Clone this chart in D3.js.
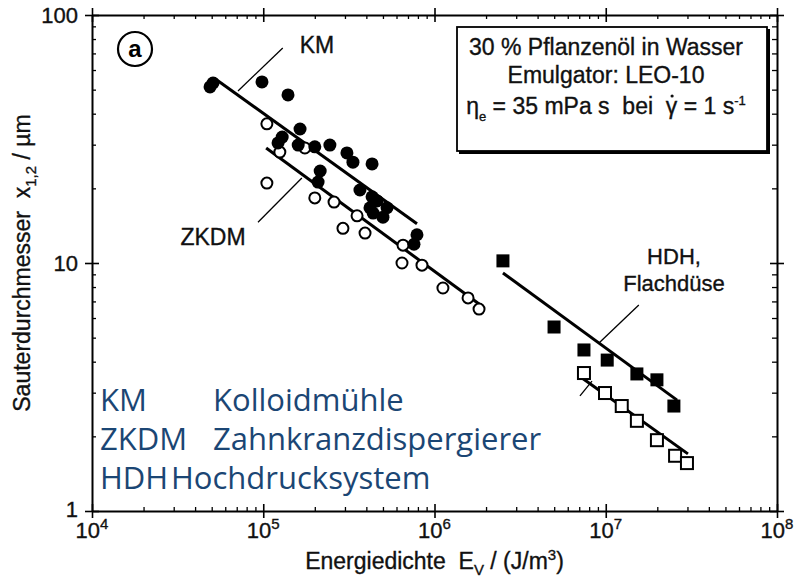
<!DOCTYPE html>
<html>
<head>
<meta charset="utf-8">
<script src="https://cdn.jsdelivr.net/npm/d3@7"></script>
<style>
  html, body { margin: 0; padding: 0; background: #fff; }
  svg { display: block; font-family: "Liberation Sans", Arial, Helvetica, sans-serif; }
  .pre { white-space: pre; }
  .ink { fill: #111; stroke: #111; stroke-width: 0.35px; }
</style>
</head>
<body>
<svg id="chart" width="798" height="579"></svg>
<script>
// Energiedichte E_V in J/m³ and Sauterdurchmesser x_1,2 in µm

// Kolloidmühle (filled circles)
const kmEnergy   = [4.89e4, 5.09e4, 9.83e4, 1.395e5, 1.64e5, 1.29e5, 1.22e5, 1.60e5, 2.00e5, 2.45e5, 3.08e5, 3.34e5,
                    4.32e5, 2.15e5, 2.09e5, 3.67e5, 4.32e5, 4.62e5, 4.20e5, 5.28e5, 4.38e5, 5.00e5, 7.90e5, 7.59e5];
const kmDiameter = [51.3, 53.2, 53.7, 47.6, 34.7, 32.2, 30.5, 29.9, 29.4, 29.9, 27.8, 25.5,
                    25.1, 23.5, 21.2, 19.7, 18.5, 17.8, 16.7, 16.7, 15.9, 15.3, 13.0, 11.9];

// Zahnkranzdispergierer (open circles)
const zkdmEnergy   = [1.05e5, 1.25e5, 1.75e5, 1.05e5, 2.00e5, 2.59e5, 3.53e5, 2.92e5, 3.93e5, 6.55e5, 6.46e5, 8.45e5,
                      1.12e6, 1.57e6, 1.82e6];
const zkdmDiameter = [36.4, 28.0, 29.1, 21.0, 18.3, 17.6, 15.5, 13.8, 13.2, 11.8, 10.0, 9.8,
                      7.93, 7.23, 6.52];

// Hochdrucksystem, Flachdüse (filled squares)
const hdhEnergy   = [2.51e6, 4.99e6, 7.46e6, 1.02e7, 1.52e7, 1.99e7, 2.50e7];
const hdhDiameter = [10.2, 5.52, 4.46, 4.06, 3.57, 3.38, 2.65];

// Hochdrucksystem (open squares)
const hdhOpenEnergy   = [7.46e6, 9.90e6, 1.24e7, 1.52e7, 1.99e7, 2.54e7, 2.98e7];
const hdhOpenDiameter = [3.60, 2.99, 2.65, 2.31, 1.93, 1.67, 1.56];

// Regression lines (start / end)
const kmFitEnergy = [5.16e4, 7.90e5],       kmFitDiameter = [55.7, 14.4];
const zkdmFitEnergy = [1.04e5, 1.89e6],     zkdmFitDiameter = [29.1, 6.71];
const hdhFitEnergy = [2.51e6, 2.61e7],      hdhFitDiameter = [9.11, 2.80];
const hdhOpenFitEnergy = [7.27e6, 3.02e7],  hdhOpenFitDiameter = [3.44, 1.70];

// Label leader lines (start / end)
const kmLeaderEnergy = [1.30e5, 7.12e4],      kmLeaderDiameter = [73.6, 49.4];
const zkdmLeaderEnergy = [1.68e5, 9.32e4],    zkdmLeaderDiameter = [22.0, 14.6];
const hdhLeaderEnergy = [1.56e7, 9.13e6],     hdhLeaderDiameter = [6.77, 4.76];
const hdhLeader2Energy = [8.31e6, 7.07e6],    hdhLeader2Diameter = [3.34, 2.91];

// Axis ticks
const xTickExponents = [4, 5, 6, 7, 8];
const yTickValues = [1, 10, 100];
const yTickLabels = ["1", "10", "100"];

// Abbreviation list
const abbrevShort = ["KM", "ZKDM", "HDH"];
const abbrevLong  = ["Kolloidmühle", "Zahnkranzdispergierer", "Hochdrucksystem"];

const svg = d3.select("#chart");
const x = d3.scaleLog().domain([1e4, 1e8]).range([92, 777]);
const y = d3.scaleLog().domain([1, 100]).range([511, 15]);
const [X0, X1] = x.range();
const [Y0, Y1] = y.range(); // Y0 bottom, Y1 top

const majorX = xTickExponents.map(e => Math.pow(10, e));
const minorX = [];
xTickExponents.slice(0, -1).forEach(e => { for (let k = 2; k <= 9; k++) minorX.push(k * Math.pow(10, e)); });
const minorY = [];
[0, 1].forEach(e => { for (let k = 2; k <= 9; k++) minorY.push(k * Math.pow(10, e)); });

function styleAxis(g, w) {
  g.select(".domain").attr("stroke", "#000").attr("stroke-width", 2);
  g.selectAll(".tick line").attr("stroke", "#000").attr("stroke-width", w);
  g.selectAll(".tick text").remove();
}
function addAxis(axis, tx, ty, w, keepDomain) {
  const g = svg.append("g").attr("transform", `translate(${tx},${ty})`).call(axis);
  styleAxis(g, w);
  if (!keepDomain) g.select(".domain").remove();
  return g;
}

// bottom axis
addAxis(d3.axisBottom(x).tickValues(majorX).tickSize(7).tickSizeOuter(0), 0, Y0, 1.6, true);
addAxis(d3.axisTop(x).tickValues(majorX).tickSize(7).tickSizeOuter(0), 0, Y0, 1.6, false);
addAxis(d3.axisTop(x).tickValues(minorX).tickSize(4).tickSizeOuter(0), 0, Y0, 1.3, false);
// top axis
addAxis(d3.axisTop(x).tickValues(majorX).tickSize(7).tickSizeOuter(0), 0, Y1, 1.6, true);
addAxis(d3.axisBottom(x).tickValues(majorX).tickSize(7).tickSizeOuter(0), 0, Y1, 1.6, false);
addAxis(d3.axisBottom(x).tickValues(minorX).tickSize(4).tickSizeOuter(0), 0, Y1, 1.3, false);
// left axis
addAxis(d3.axisLeft(y).tickValues(yTickValues).tickSize(7).tickSizeOuter(0), X0, 0, 1.6, true);
addAxis(d3.axisRight(y).tickValues(yTickValues).tickSize(7).tickSizeOuter(0), X0, 0, 1.6, false);
addAxis(d3.axisRight(y).tickValues(minorY).tickSize(4).tickSizeOuter(0), X0, 0, 1.3, false);
// right axis
addAxis(d3.axisRight(y).tickValues(yTickValues).tickSize(7).tickSizeOuter(0), X1, 0, 1.6, true);
addAxis(d3.axisLeft(y).tickValues(yTickValues).tickSize(7).tickSizeOuter(0), X1, 0, 1.6, false);
addAxis(d3.axisLeft(y).tickValues(minorY).tickSize(5).tickSizeOuter(0), X1, 0, 1.3, false);

// x tick labels 10^n
xTickExponents.forEach(e => {
  const t = svg.append("text")
    .attr("class", "ink")
    .attr("x", x(Math.pow(10, e)))
    .attr("y", 538)
    .attr("text-anchor", "middle")
    .attr("font-size", 22);
  t.append("tspan").text("10");
  t.append("tspan").attr("font-size", 15).attr("dy", -9).text(String(e));
});

// y tick labels
yTickValues.forEach((v, i) => {
  svg.append("text")
    .attr("class", "ink")
    .attr("x", 78)
    .attr("y", y(v) + (v === 1 ? 6 : 8))
    .attr("text-anchor", "end")
    .attr("font-size", 22)
    .text(yTickLabels[i]);
});

// axis titles
const xt = svg.append("text")
  .attr("class", "pre ink")
  .attr("x", (X0 + X1) / 2)
  .attr("y", 569)
  .attr("text-anchor", "middle")
  .attr("font-size", 23);
xt.append("tspan").text("Energiedichte  E");
xt.append("tspan").attr("font-size", 15).attr("dy", 6).text("V");
xt.append("tspan").attr("dy", -6).text(" / (J/m");
xt.append("tspan").attr("font-size", 15).attr("dy", -9).text("3");
xt.append("tspan").attr("dy", 9).text(")");

const yt = svg.append("text")
  .attr("class", "pre ink")
  .attr("transform", `translate(30,${(Y0 + Y1) / 2}) rotate(-90)`)
  .attr("text-anchor", "middle")
  .attr("font-size", 23);
yt.append("tspan").text("Sauterdurchmesser  x");
yt.append("tspan").attr("font-size", 15).attr("dy", 6).text("1,2");
yt.append("tspan").attr("dy", -6).text(" / µm");

// regression lines
const line = d3.line().x(d => x(d[0])).y(d => y(d[1]));
function drawLine(es, ds, w) {
  svg.append("path")
    .datum(es.map((e, i) => [e, ds[i]]))
    .attr("d", line)
    .attr("fill", "none")
    .attr("stroke", "#000")
    .attr("stroke-width", w);
}
drawLine(kmFitEnergy, kmFitDiameter, 3);
drawLine(zkdmFitEnergy, zkdmFitDiameter, 3);
drawLine(hdhFitEnergy, hdhFitDiameter, 3);
drawLine(hdhOpenFitEnergy, hdhOpenFitDiameter, 3);

// leader lines
drawLine(kmLeaderEnergy, kmLeaderDiameter, 1.3);
drawLine(zkdmLeaderEnergy, zkdmLeaderDiameter, 1.3);
drawLine(hdhLeaderEnergy, hdhLeaderDiameter, 1.3);
drawLine(hdhLeader2Energy, hdhLeader2Diameter, 1.3);

// markers
function pairs(es, ds) { return es.map((e, i) => [e, ds[i]]); }
svg.append("g").selectAll("circle")
  .data(pairs(zkdmEnergy, zkdmDiameter)).join("circle")
  .attr("cx", d => x(d[0])).attr("cy", d => y(d[1])).attr("r", 5.5)
  .attr("fill", "#fff").attr("stroke", "#000").attr("stroke-width", 2);
svg.append("g").selectAll("circle")
  .data(pairs(kmEnergy, kmDiameter)).join("circle")
  .attr("cx", d => x(d[0])).attr("cy", d => y(d[1])).attr("r", 6.5)
  .attr("fill", "#000");
const sq = 12;
svg.append("g").selectAll("rect")
  .data(pairs(hdhOpenEnergy, hdhOpenDiameter)).join("rect")
  .attr("x", d => x(d[0]) - sq / 2).attr("y", d => y(d[1]) - sq / 2)
  .attr("width", sq).attr("height", sq)
  .attr("fill", "#fff").attr("stroke", "#000").attr("stroke-width", 2);
svg.append("g").selectAll("rect")
  .data(pairs(hdhEnergy, hdhDiameter)).join("rect")
  .attr("x", d => x(d[0]) - 6.5).attr("y", d => y(d[1]) - 6.5)
  .attr("width", 13).attr("height", 13)
  .attr("fill", "#000");

// series labels
const lab = (tx, ty, s, fs) => svg.append("text").attr("class", "ink").attr("x", tx).attr("y", ty)
  .attr("text-anchor", "middle").attr("font-size", fs).text(s);
lab(317, 53, "KM", 23);
lab(213, 245, "ZKDM", 23);
lab(674, 264, "HDH,", 22);
lab(674, 291, "Flachdüse", 22);

// panel marker (a)
svg.append("circle").attr("cx", 135).attr("cy", 49).attr("r", 17)
  .attr("fill", "none").attr("stroke", "#000").attr("stroke-width", 2.2);
svg.append("text").attr("x", 135).attr("y", 57).attr("text-anchor", "middle")
  .attr("font-size", 24).attr("font-weight", "bold").attr("fill", "#000").text("a");

// info box
svg.append("rect").attr("x", 459).attr("y", 29).attr("width", 311).attr("height", 125).attr("fill", "#000");
svg.append("rect").attr("x", 457).attr("y", 27).attr("width", 310).attr("height", 124)
  .attr("fill", "#fff").attr("stroke", "#000").attr("stroke-width", 1.8);
const boxCx = 606;
svg.append("text").attr("class", "pre ink").attr("x", boxCx).attr("y", 55).attr("text-anchor", "middle")
  .attr("font-size", 23).text("30 % Pflanzenöl in Wasser");
svg.append("text").attr("class", "ink").attr("x", boxCx).attr("y", 83).attr("text-anchor", "middle")
  .attr("font-size", 23).text("Emulgator: LEO-10");
const eta = svg.append("text").attr("class", "pre ink").attr("x", boxCx).attr("y", 114)
  .attr("text-anchor", "middle").attr("font-size", 23);
eta.append("tspan").text("η");
eta.append("tspan").attr("font-size", 13).attr("dy", 7).text("e");
eta.append("tspan").attr("dy", -7).text(" = 35 mPa s  bei  ");
eta.append("tspan").text("γ");
eta.append("tspan").text(" = 1 s");
eta.append("tspan").attr("font-size", 13).attr("dy", -9).text("-1");
// dot over gamma
{
  const node = eta.node();
  const idx = node.textContent.indexOf("γ");
  const ext = node.getExtentOfChar(idx);
  svg.append("circle").attr("cx", ext.x + ext.width / 2 + 0.5).attr("cy", 114 - 18).attr("r", 1.6).attr("fill", "#111");
}

// abbreviation list
const blue = "#1b4674";
abbrevShort.forEach((s, i) => {
  svg.append("text").attr("x", 100).attr("y", 411 + i * 39)
    .attr("font-family", "'Open Sans', 'Noto Sans', sans-serif")
    .attr("font-size", 31).attr("fill", blue).text(s);
});
const longX = [213, 213, 171];
abbrevLong.forEach((s, i) => {
  svg.append("text").attr("x", longX[i]).attr("y", 411 + i * 39)
    .attr("font-family", "'Open Sans', 'Noto Sans', sans-serif")
    .attr("font-size", 31).attr("fill", blue).text(s);
});
</script>
</body>
</html>
